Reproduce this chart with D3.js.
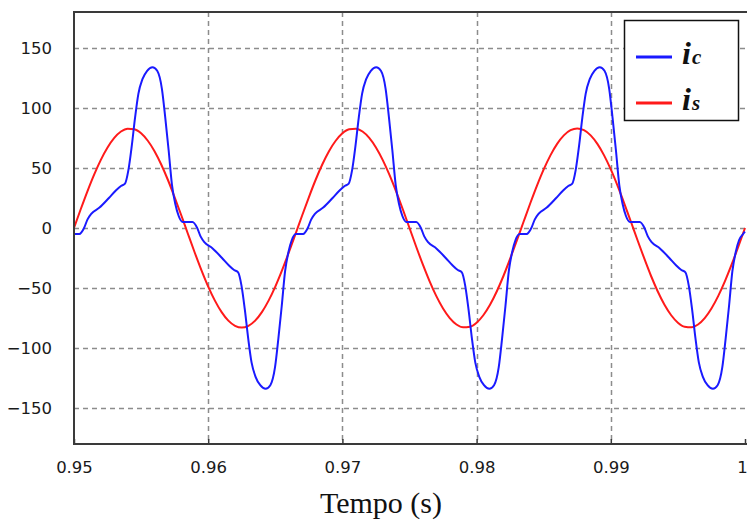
<!DOCTYPE html>
<html>
<head>
<meta charset="utf-8">
<script src="https://cdn.jsdelivr.net/npm/d3@7"></script>
<style>
  html, body { margin: 0; padding: 0; background: #fff; }
  svg { display: block; }
</style>
</head>
<body>
<svg id="chart" width="747" height="520"></svg>
<script>
// Axis ticks
const xTicks = [0.95, 0.96, 0.97, 0.98, 0.99, 1.0];
const xTickLabels = ["0.95", "0.96", "0.97", "0.98", "0.99", "1"];
const yTicks = [150, 100, 50, 0, -50, -100, -150];

// Source current i_s: sampled every 0.5 ms starting at t = 0.95 s
const isStart = 0.95;
const isStep = 0.0005;
const isValues = [
  0, 15.6, 30.6, 44.5, 56.8, 67.1, 75.1, 80.4, 82.8, 82.3,
  78.9, 72.7, 64.0, 52.9, 40.0, 25.6, 10.4, -5.2, -20.6, -35.3,
  -48.8, -60.5, -70.1, -77.2, -81.5, -83.0, -81.5, -77.2, -70.1, -60.5,
  -48.8, -35.3, -20.6, -5.2, 10.4, 25.6, 40.0, 52.9, 64.0, 72.7,
  78.9, 82.3, 82.8, 80.4, 75.1, 67.1, 56.8, 44.5, 30.6, 15.6,
  0, -15.6, -30.6, -44.5, -56.8, -67.1, -75.1, -80.4, -82.8, -82.3,
  -78.9, -72.7, -64.0, -52.9, -40.0, -25.6, -10.4, 5.2, 20.6, 35.3,
  48.8, 60.5, 70.1, 77.2, 81.5, 83.0, 81.5, 77.2, 70.1, 60.5,
  48.8, 35.3, 20.6, 5.2, -10.4, -25.6, -40.0, -52.9, -64.0, -72.7,
  -78.9, -82.3, -82.8, -80.4, -75.1, -67.1, -56.8, -44.5, -30.6, -15.6,
  0
];

// Load current i_c: time (s) and value pairs
const icTimes = [
  0.95000, 0.95040, 0.95075, 0.95100, 0.95130, 0.95190, 0.95260, 0.95310, 0.95350, 0.95380,
  0.95405, 0.95430, 0.95455, 0.95480, 0.95510, 0.95545, 0.95585, 0.95620, 0.95655, 0.95680,
  0.95705, 0.95730, 0.95755, 0.95780, 0.95810, 0.95843, 0.95883, 0.95918, 0.95943, 0.95973,
  0.96033, 0.96103, 0.96153, 0.96193, 0.96223, 0.96248, 0.96273, 0.96298, 0.96323, 0.96353,
  0.96388, 0.96428, 0.96463, 0.96498, 0.96523, 0.96548, 0.96573, 0.96598, 0.96623, 0.96653,
  0.96667, 0.96707, 0.96742, 0.96767, 0.96797, 0.96857, 0.96927, 0.96977, 0.97017, 0.97047,
  0.97072, 0.97097, 0.97122, 0.97147, 0.97177, 0.97212, 0.97252, 0.97287, 0.97322, 0.97347,
  0.97372, 0.97397, 0.97422, 0.97447, 0.97477, 0.97510, 0.97550, 0.97585, 0.97610, 0.97640,
  0.97700, 0.97770, 0.97820, 0.97860, 0.97890, 0.97915, 0.97940, 0.97965, 0.97990, 0.98020,
  0.98055, 0.98095, 0.98130, 0.98165, 0.98190, 0.98215, 0.98240, 0.98265, 0.98290, 0.98320,
  0.98333, 0.98373, 0.98408, 0.98433, 0.98463, 0.98523, 0.98593, 0.98643, 0.98683, 0.98713,
  0.98738, 0.98763, 0.98788, 0.98813, 0.98843, 0.98878, 0.98918, 0.98953, 0.98988, 0.99013,
  0.99038, 0.99063, 0.99088, 0.99113, 0.99143, 0.99176, 0.99216, 0.99251, 0.99276, 0.99306,
  0.99366, 0.99436, 0.99486, 0.99526, 0.99556, 0.99581, 0.99606, 0.99631, 0.99656, 0.99686,
  0.99721, 0.99761, 0.99796, 0.99831, 0.99856, 0.99881, 0.99906, 0.99931, 0.99956, 0.99986,
  1.00000
];
const icValues = [
  -5, -5, 0, 7, 12, 17, 25, 31, 35, 37,
  48, 68, 92, 112, 124, 131, 134, 131, 116, 92,
  65, 36, 20, 10, 5, 5, 5, 0, -7, -12,
  -17, -25, -31, -35, -37, -48, -68, -92, -112, -124,
  -131, -134, -131, -116, -92, -65, -36, -20, -10, -5,
  -5, -5, 0, 7, 12, 17, 25, 31, 35, 37,
  48, 68, 92, 112, 124, 131, 134, 131, 116, 92,
  65, 36, 20, 10, 5, 5, 5, 0, -7, -12,
  -17, -25, -31, -35, -37, -48, -68, -92, -112, -124,
  -131, -134, -131, -116, -92, -65, -36, -20, -10, -5,
  -5, -5, 0, 7, 12, 17, 25, 31, 35, 37,
  48, 68, 92, 112, 124, 131, 134, 131, 116, 92,
  65, 36, 20, 10, 5, 5, 5, 0, -7, -12,
  -17, -25, -31, -35, -37, -48, -68, -92, -112, -124,
  -131, -134, -131, -116, -92, -65, -36, -20, -10, -5,
  -3
];

const svg = d3.select("#chart");
const plot = { left: 74, right: 748, top: 12, bottom: 444 };

const x = d3.scaleLinear().domain([0.95, 1.0]).range([plot.left, 745]);
const y = d3.scaleLinear().domain([-180, 180]).range([plot.bottom, plot.top]);

svg.append("defs").append("clipPath").attr("id", "plot-clip")
  .append("rect")
  .attr("x", plot.left).attr("y", plot.top)
  .attr("width", plot.right - plot.left).attr("height", plot.bottom - plot.top);

// Dashed grid
const grid = svg.append("g").attr("stroke", "#8c8c8c").attr("stroke-width", 1.5)
  .attr("stroke-dasharray", "5,4");
grid.selectAll("line.h").data(yTicks).join("line")
  .attr("class", "h")
  .attr("x1", plot.left).attr("x2", plot.right)
  .attr("y1", d => Math.round(y(d)) + 0.5).attr("y2", d => Math.round(y(d)) + 0.5);
grid.selectAll("line.v").data(xTicks.slice(1, -1)).join("line")
  .attr("class", "v")
  .attr("y1", plot.top).attr("y2", plot.bottom)
  .attr("x1", d => Math.round(x(d)) + 0.5).attr("x2", d => Math.round(x(d)) + 0.5);

// Curves
const icData = icTimes.map((t, i) => [t, icValues[i]]);
const isData = isValues.map((v, i) => [isStart + i * isStep, v]);

const line = d3.line()
  .x(d => x(d[0]))
  .y(d => y(d[1]))
  .curve(d3.curveMonotoneX);

const curves = svg.append("g").attr("clip-path", "url(#plot-clip)");
curves.append("path").datum(isData)
  .attr("fill", "none").attr("stroke", "#ff1a1a").attr("stroke-width", 2)
  .attr("d", line);
curves.append("path").datum(icData)
  .attr("fill", "none").attr("stroke", "#1a1aff").attr("stroke-width", 2)
  .attr("d", line);

// Frame
svg.append("rect")
  .attr("x", plot.left).attr("y", plot.top)
  .attr("width", plot.right - plot.left + 2).attr("height", plot.bottom - plot.top)
  .attr("fill", "none").attr("stroke", "#3a3a3a").attr("stroke-width", 2);

// Axes
const xAxis = d3.axisBottom(x).tickValues(xTicks)
  .tickFormat((d, i) => xTickLabels[i]).tickSizeInner(-5).tickSizeOuter(0).tickPadding(17);
const gx = svg.append("g").attr("transform", `translate(0,${plot.bottom})`).call(xAxis);
gx.select(".domain").remove();
gx.selectAll(".tick line").attr("stroke", "#3a3a3a").attr("stroke-width", 1.5);
gx.selectAll(".tick text")
  .attr("font-family", "'DejaVu Sans', Verdana, sans-serif")
  .attr("font-size", 16.5).attr("fill", "#1a1a1a")
  .attr("dx", d => d === 1.0 ? -3 : 0);

const yAxis = d3.axisLeft(y).tickValues(yTicks).tickSize(0).tickPadding(22);
const gy = svg.append("g").attr("transform", `translate(${plot.left},0)`).call(yAxis);
gy.select(".domain").remove();
gy.selectAll(".tick text")
  .attr("font-family", "'DejaVu Sans', Verdana, sans-serif")
  .attr("font-size", 16.5).attr("fill", "#1a1a1a");

// Axis title
svg.append("text")
  .attr("x", 381).attr("y", 513)
  .attr("text-anchor", "middle")
  .attr("font-family", "'Liberation Serif', 'Times New Roman', serif")
  .attr("font-size", 30).attr("fill", "#111")
  .text("Tempo (s)");

// Legend
const legendItems = [
  { name: "i", sub: "c", color: "#1a1aff" },
  { name: "i", sub: "s", color: "#ff1a1a" }
];
const legend = svg.append("g");
legend.append("rect")
  .attr("x", 624.5).attr("y", 20.5).attr("width", 114).attr("height", 100)
  .attr("fill", "#fff").attr("stroke", "#111").attr("stroke-width", 1.5);
const rows = legend.selectAll("g.row").data(legendItems).join("g")
  .attr("class", "row")
  .attr("transform", (d, i) => `translate(0,${57 + i * 46})`);
rows.append("line")
  .attr("x1", 636).attr("x2", 672).attr("y1", 0).attr("y2", 0)
  .attr("stroke", d => d.color).attr("stroke-width", 3);
const label = rows.append("text")
  .attr("x", 682).attr("y", 7)
  .attr("font-family", "'Liberation Serif', 'Times New Roman', serif")
  .attr("font-style", "italic").attr("font-weight", "bold")
  .attr("fill", "#111");
label.append("tspan").attr("font-size", 32).text(d => d.name);
label.append("tspan").attr("font-size", 21).attr("dx", 1).text(d => d.sub);
</script>
</body>
</html>
